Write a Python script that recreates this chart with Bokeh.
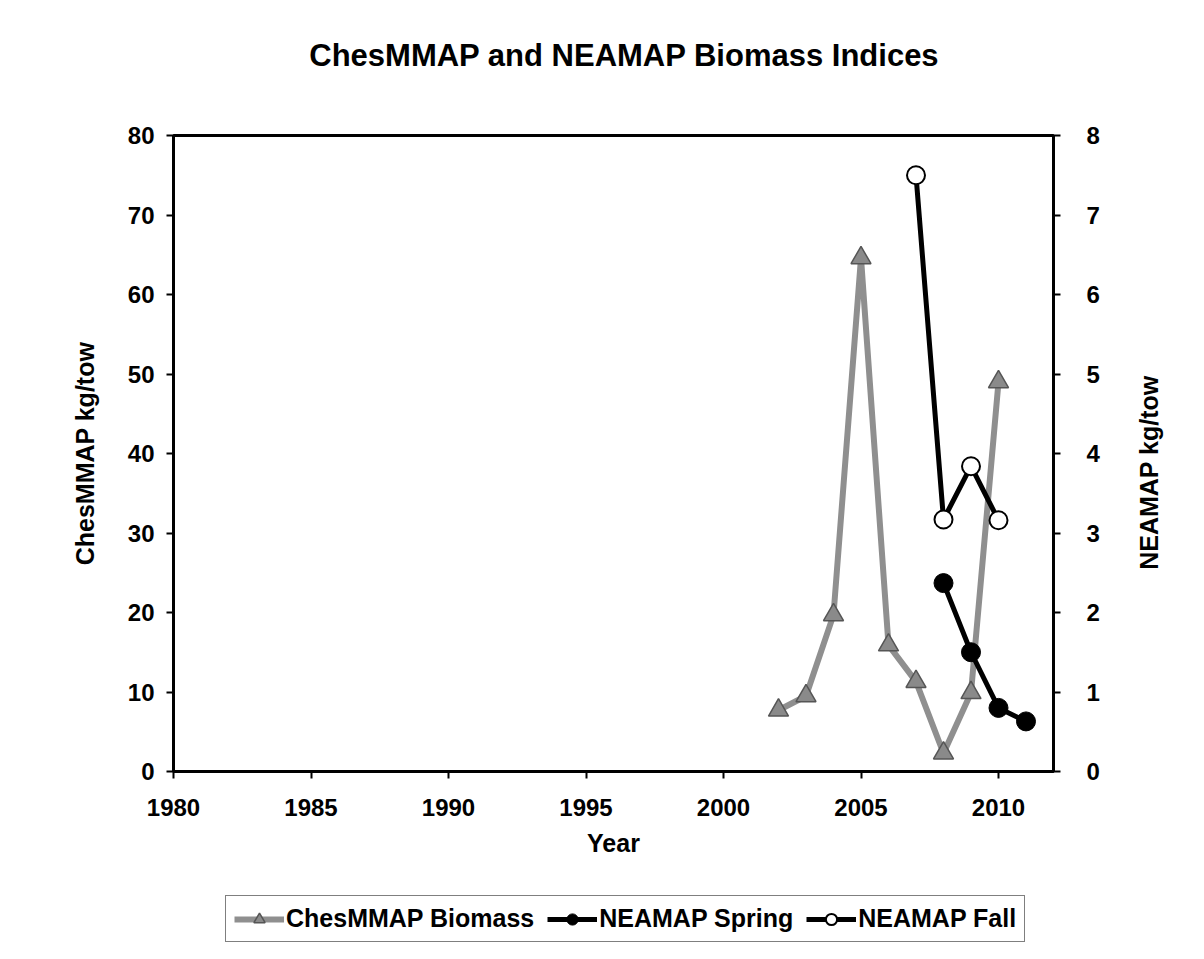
import math
from bokeh.plotting import figure
from bokeh.layouts import column
from bokeh.models import Range1d, LinearAxis, Legend, LegendItem, FixedTicker, Label
from bokeh.embed import file_html
from bokeh.resources import INLINE

# ---- data ----
ches_years = [2002, 2003, 2004, 2005, 2006, 2007, 2008, 2009, 2010]
ches_biomass = [7.7, 9.5, 19.7, 64.6, 15.9, 11.3, 2.3, 9.9, 49.0]
spring_years = [2008, 2009, 2010, 2011]
spring_vals = [2.37, 1.50, 0.80, 0.63]
fall_years = [2007, 2008, 2009, 2010]
fall_vals = [7.50, 3.17, 3.84, 3.16]
x_ticks = [1980, 1985, 1990, 1995, 2000, 2005, 2010]
left_ticks = [0, 10, 20, 30, 40, 50, 60, 70, 80]
right_ticks = [0, 1, 2, 3, 4, 5, 6, 7, 8]
series_names = ["ChesMMAP Biomass", "NEAMAP Spring", "NEAMAP Fall"]
title_text = "ChesMMAP and NEAMAP Biomass Indices"

FONT = "Liberation Sans"
W = 1188
H_MAIN = 880
H_LEG = 63

CHES = dict(line_color="#8f8f8f", line_width=6)
CHES_M = dict(marker="triangle", size=20, fill_color="#8a8a8a",
              line_color="#555555", line_width=1.5)
SPR = dict(line_color="black", line_width=5)
SPR_M = dict(marker="circle", size=19, fill_color="black", line_color="black")
FAL = dict(line_color="black", line_width=5)
FAL_M = dict(marker="circle", size=18, fill_color="white", line_color="black",
             line_width=2)

p = figure(width=W, height=H_MAIN, output_backend="svg", toolbar_location=None,
           x_range=Range1d(1980, 2012), y_range=Range1d(0, 80),
           min_border_left=173, min_border_right=135,
           min_border_top=135, min_border_bottom=H_MAIN - 771)
p.extra_y_ranges = {"right": Range1d(0, 8)}

p.background_fill_color = "white"
p.border_fill_color = "white"
p.grid.visible = False
p.outline_line_color = "black"
p.outline_line_width = 3

def style_axis(ax):
    ax.major_label_text_font = FONT
    ax.major_label_text_font_size = "24px"
    ax.major_label_text_font_style = "bold"
    ax.major_label_text_color = "black"
    ax.axis_label_text_font = FONT
    ax.axis_label_text_font_size = "25px"
    ax.axis_label_text_font_style = "bold"
    ax.axis_label_text_color = "black"
    ax.axis_line_color = "black"
    ax.axis_line_width = 3
    ax.major_tick_line_color = "black"
    ax.major_tick_line_width = 2
    ax.major_tick_out = 7
    ax.major_tick_in = 0
    ax.minor_tick_line_color = None

xa = p.xaxis[0]
xa.ticker = FixedTicker(ticks=x_ticks)
xa.axis_label = "Year"
style_axis(xa)
xa.major_label_standoff = 20
xa.axis_label_standoff = 10

ya = p.yaxis[0]
ya.ticker = FixedTicker(ticks=left_ticks)
ya.axis_label = "ChesMMAP kg/tow"
style_axis(ya)
ya.major_label_standoff = 12
ya.axis_label_standoff = 26

ra = LinearAxis(y_range_name="right", ticker=FixedTicker(ticks=right_ticks))
style_axis(ra)
ra.major_label_standoff = 26
p.add_layout(ra, "right")

# chart title, centred over the chart
title_lbl = Label(x=1996.4, y=80, x_units="data", y_units="screen",
                  text=title_text, text_align="center", text_baseline="middle",
                  text_font=FONT, text_font_size="31px", text_font_style="bold",
                  text_color="black")
p.add_layout(title_lbl, "above")

# right axis title, reading bottom-to-top
right_title = Label(x=46, y=3.76, x_units="screen", y_units="data", y_range_name="right",
                    text="NEAMAP kg/tow", angle=math.pi / 2,
                    text_align="center", text_baseline="middle",
                    text_font=FONT, text_font_size="25px", text_font_style="bold",
                    text_color="black")
p.add_layout(right_title, "right")

p.line(ches_years, ches_biomass, **CHES)
p.scatter(ches_years, ches_biomass, **CHES_M)
p.line(spring_years, spring_vals, y_range_name="right", **SPR)
p.scatter(spring_years, spring_vals, y_range_name="right", **SPR_M)
p.line(fall_years, fall_vals, y_range_name="right", **FAL)
p.scatter(fall_years, fall_vals, y_range_name="right", **FAL_M)

# ---- legend strip (separate figure; its series lie outside its ranges) ----
lg = figure(width=W, height=H_LEG, output_backend="svg", toolbar_location=None,
            x_range=Range1d(0, 1), y_range=Range1d(0, 1),
            min_border=0, min_border_bottom=0, min_border_top=0,
            x_axis_type=None, y_axis_type=None)
lg.grid.visible = False
lg.outline_line_color = None
lg.background_fill_color = "white"
lg.border_fill_color = "white"
l1 = lg.line(ches_years, ches_biomass, **CHES)
m1 = lg.scatter(ches_years, ches_biomass, **CHES_M)
l2 = lg.line(spring_years, spring_vals, **SPR)
m2 = lg.scatter(spring_years, spring_vals, **SPR_M)
l3 = lg.line(fall_years, fall_vals, **FAL)
m3 = lg.scatter(fall_years, fall_vals, **FAL_M)

legend = Legend(items=[
    LegendItem(label=series_names[0], renderers=[l1, m1]),
    LegendItem(label=series_names[1], renderers=[l2, m2]),
    LegendItem(label=series_names[2], renderers=[l3, m3]),
], orientation="horizontal", location=(52, 1))
legend.label_text_font = FONT
legend.label_text_font_size = "25px"
legend.label_text_font_style = "bold"
legend.label_text_color = "black"
legend.glyph_width = 50
legend.glyph_height = 28
legend.label_standoff = 2
legend.spacing = 13
legend.padding = 8
legend.margin = 0
legend.border_line_color = "black"
legend.border_line_width = 1.5
legend.background_fill_color = "white"
legend.background_fill_alpha = 1
lg.add_layout(legend, "center")

layout = column(p, lg, spacing=0)
open("out.html", "w").write(file_html(layout, INLINE))
